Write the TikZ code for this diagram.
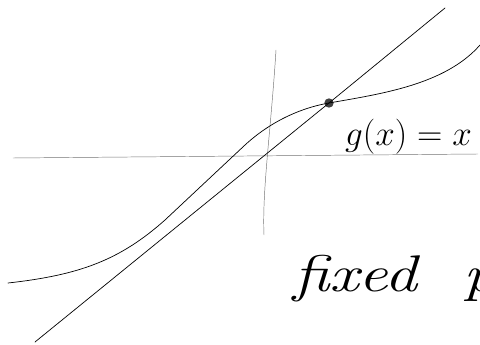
\RequirePackage{fix-cm}
\documentclass[tikz,border=0pt]{standalone}
\usepackage{amsmath}
\usetikzlibrary{positioning}

\begin{document}
\begin{tikzpicture}[x=0.03cm, y=-0.03cm, line cap=round]
\useasboundingbox (0,0) rectangle (480,345);

% Axes (thin, faint)
\coordinate (xl) at (13,158);
\coordinate (xr) at (478,154);
\draw[black!55, thin] (xl) -- (xr);
\coordinate (yt) at (276,50);
\coordinate (yb) at (264,235);
\draw[black!55, thin] (yt) .. controls (271,130) and (262,190) .. (yb);

% Fixed point
\node[circle, fill=black!75, inner sep=0pt, minimum size=8pt] (fp) at (329,103) {};

% Line y = x
\coordinate (ll) at (35,342);
\coordinate (lr) at (445,8);
\draw[semithick] (ll) -- (fp.center) -- (lr);

% Curve g
\coordinate (gl) at (8,283);
\coordinate (gr) at (480,45);
\draw[semithick] (gl) .. controls (80,275) and (120,260) .. (165,220)
  -- (245,145) .. controls (270,122) and (300,108) .. (fp.center)
  .. controls (380,94) and (445,85) .. (gr);

% Labels
\node[anchor=base west, inner sep=0pt, font=\fontsize{30}{32}\selectfont] (gx) at (345,146) {$g(x)=x$};
\node[anchor=base west, inner sep=0pt, font=\fontsize{44}{48}\selectfont\itshape] (fixed) at (293,291) {\scalebox{1.27}[1]{fixed\hspace{0.7em}p}};

\end{tikzpicture}
\end{document}
